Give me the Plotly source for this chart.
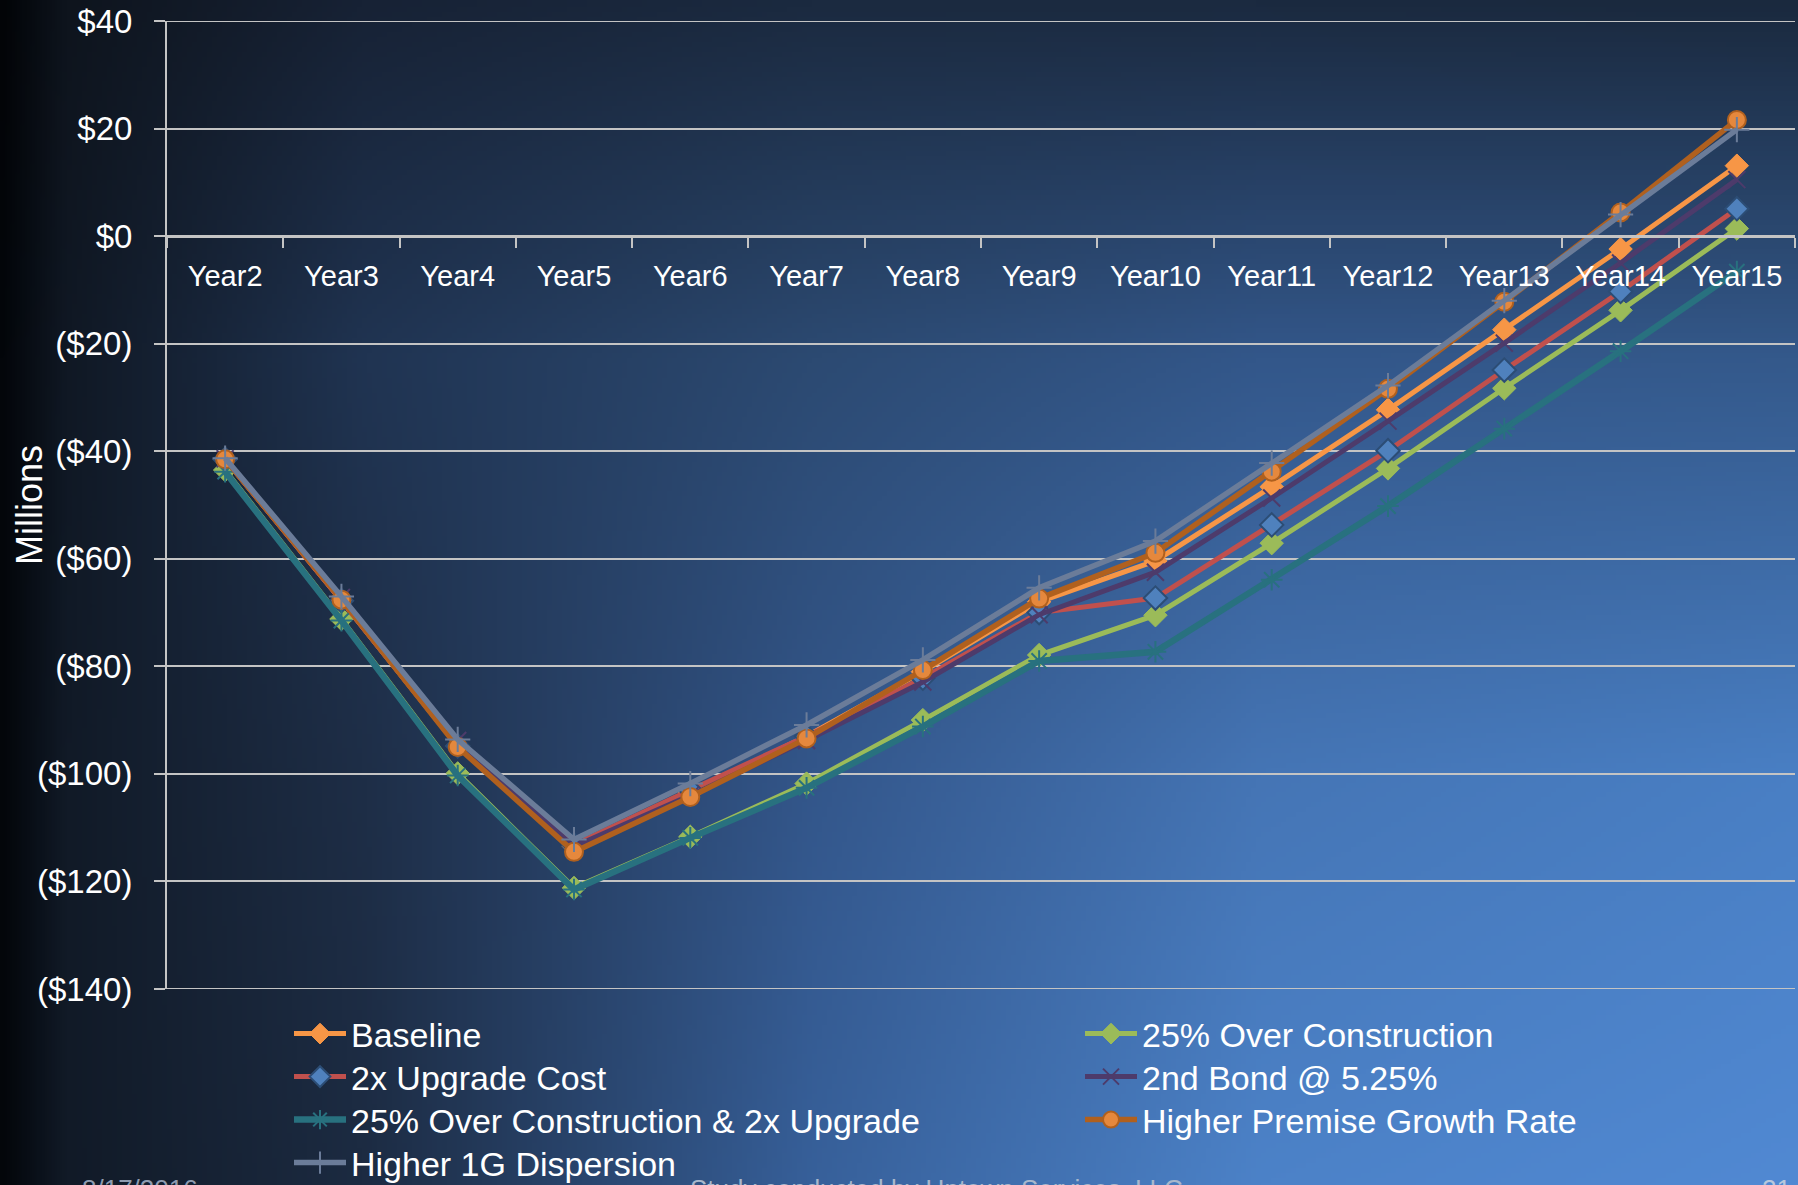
import base64, struct, zlib
import numpy as np
import plotly.graph_objects as go

# ---------------- data ----------------
years = ["Year2", "Year3", "Year4", "Year5", "Year6", "Year7", "Year8",
         "Year9", "Year10", "Year11", "Year12", "Year13", "Year14", "Year15"]

baseline = [-41.5, -67.8, -94.8, -113.5, -103.5, -93.0, -81.0, -68.0, -60.4, -46.6, -32.3, -17.4, -2.4, 13.1]
over_construction = [-43.5, -71.2, -99.9, -121.2, -111.7, -101.8, -90.0, -77.9, -70.5, -57.1, -43.2, -28.3, -13.8, 1.4]
upgrade_2x = [-41.5, -67.8, -94.8, -113.2, -103.0, -93.0, -82.2, -70.0, -67.3, -53.7, -39.9, -24.9, -10.3, 5.1]
second_bond = [-41.4, -67.2, -93.8, -113.5, -104.0, -93.8, -82.9, -70.4, -62.5, -48.7, -34.4, -19.9, -5.0, 10.5]
oc_and_2x = [-43.8, -71.5, -100.3, -121.5, -111.9, -102.6, -91.2, -79.0, -77.3, -63.9, -50.2, -35.8, -21.4, -6.6]
premise_growth = [-41.5, -67.6, -95.0, -114.5, -104.3, -93.4, -80.7, -67.4, -58.9, -43.8, -28.4, -12.2, 4.4, 21.6]
dispersion_1g = [-41.3, -67.0, -93.6, -112.2, -101.8, -90.9, -78.8, -65.4, -56.7, -42.2, -27.8, -12.0, 4.0, 19.8]

series_names = ["Baseline", "25% Over Construction", "2x Upgrade Cost", "2nd Bond @ 5.25%",
                "25% Over Construction & 2x Upgrade", "Higher Premise Growth Rate", "Higher 1G Dispersion"]

y_tick_vals = [40, 20, 0, -20, -40, -60, -80, -100, -120, -140]
y_tick_text = ["$40", "$20", "$0", "($20)", "($40)", "($60)", "($80)", "($100)", "($120)", "($140)"]

# ---------------- layout constants ----------------
W, H = 1798, 1185
ML, MR, MT, MB = 167, 3, 21, 196
PW, PH = W - ML - MR, H - MT - MB
FONT = "Liberation Sans, Arial, sans-serif"
GRID = "#c4c4c4"

# ---------------- background gradient ----------------
def hexrgb(h):
    h = h.lstrip("#")
    return [int(h[i:i + 2], 16) for i in (0, 2, 4)]

gx = [0.0, 0.035, 0.2, 0.45, 0.7, 1.0]
gy = [0.0, 0.3, 0.65, 1.0]
grid_cols = [
    ["#020407", "#0e141d", "#172235", "#1b2a40", "#1b2a40", "#1a293e"],
    ["#03060a", "#101824", "#20345250", "#2c4a72", "#33578a", "#34598b"],
    ["#03060a", "#111a27", "#1e2e47", "#33568a", "#4575b5", "#497fc4"],
    ["#03060a", "#111a27", "#1c2b42", "#37609a", "#4c82c8", "#5189d3"],
]
grid_cols[1][2] = "#203452"
gc = np.array([[hexrgb(c) for c in row] for row in grid_cols], dtype=float)
iw, ih = 360, 240
xs = np.linspace(0, 1, iw)
ys = np.linspace(0, 1, ih)
tmp = np.zeros((len(gy), iw, 3))
for r in range(len(gy)):
    for ch in range(3):
        tmp[r, :, ch] = np.interp(xs, gx, gc[r, :, ch])
img = np.zeros((ih, iw, 3))
for ch in range(3):
    for c in range(iw):
        img[:, c, ch] = np.interp(ys, gy, tmp[:, c, ch])
img = np.clip(img, 0, 255).astype(np.uint8)

def png_bytes(arr):
    h, w, _ = arr.shape
    raw = b"".join(b"\x00" + arr[y].tobytes() for y in range(h))
    def chunk(t, d):
        c = struct.pack(">I", len(d)) + t + d
        return c + struct.pack(">I", zlib.crc32(t + d) & 0xFFFFFFFF)
    return (b"\x89PNG\r\n\x1a\n" + chunk(b"IHDR", struct.pack(">IIBBBBB", w, h, 8, 2, 0, 0, 0))
            + chunk(b"IDAT", zlib.compress(raw, 9)) + chunk(b"IEND", b""))

bg_src = "data:image/png;base64," + base64.b64encode(png_bytes(img)).decode()

# ---------------- helpers ----------------
def px_to_paper_x(px):
    return (px - ML) / PW

def px_to_paper_y(py):
    return (H - MB - py) / PH

# legend slot for each series: (column x px, row top px)
col_x = [289, 1080]
row_top = [1005, 1048, 1091, 1134]
legend_slots = [(0, 0), (1, 0), (0, 1), (1, 1), (0, 2), (1, 2), (0, 3)]

# ---------------- traces ----------------
styles = [
    dict(line=dict(color="#f79646", width=5),
         marker=dict(symbol="diamond", size=18, color="#f79646", line=dict(color="#f79646", width=1))),
    dict(line=dict(color="#9bbb59", width=5),
         marker=dict(symbol="diamond", size=18, color="#9bbb59", line=dict(color="#9bbb59", width=1))),
    dict(line=dict(color="#c0504d", width=5),
         marker=dict(symbol="diamond", size=18, color="#4f81bd", line=dict(color="#2c4d75", width=2))),
    dict(line=dict(color="#4d3b6b", width=5),
         marker=dict(symbol="x-thin-open", size=17, color="#4d3b6b", line=dict(color="#4d3b6b", width=2))),
    dict(line=dict(color="#28717f", width=6.5),
         marker=dict(symbol="asterisk-open", size=18, color="#28717f", line=dict(color="#28717f", width=2))),
    dict(line=dict(color="#b0601e", width=5.5),
         marker=dict(symbol="circle", size=18, color="#e5883d", line=dict(color="#b0601e", width=2))),
    dict(line=dict(color="#6b7c99", width=5.5),
         marker=dict(symbol="cross-thin-open", size=18, color="#6b7c99", line=dict(color="#6b7c99", width=2))),
]
all_values = [baseline, over_construction, upgrade_2x, second_bond, oc_and_2x, premise_growth, dispersion_1g]

fig = go.Figure()
legend_layouts = {}
for i, (name, vals, st) in enumerate(zip(series_names, all_values, styles)):
    lname = "legend" if i == 0 else "legend%d" % (i + 1)
    fig.add_trace(go.Scatter(x=years, y=vals, name=name, mode="lines+markers",
                             line=st["line"], marker=st["marker"], legend=lname,
                             hoverinfo="skip"))
    c, r = legend_slots[i]
    legend_layouts[lname] = dict(
        x=px_to_paper_x(col_x[c]), y=px_to_paper_y(row_top[r]),
        xanchor="left", yanchor="top", orientation="v",
        bgcolor="rgba(0,0,0,0)", borderwidth=0,
        font=dict(family=FONT, size=34, color="white"),
        itemwidth=52,
    )

fig.update_layout(
    width=W, height=H,
    margin=dict(l=ML, r=MR, t=MT, b=MB, pad=0, autoexpand=False),
    paper_bgcolor="#0d1522",
    plot_bgcolor="rgba(0,0,0,0)",
    font=dict(family=FONT, color="white"),
    showlegend=True,
    xaxis=dict(
        type="category", range=[-0.5, len(years) - 0.5],
        anchor="free", position=140 / 180,
        showline=True, linecolor=GRID, linewidth=3,
        ticks="outside", tickson="boundaries", ticklen=10, tickwidth=2, tickcolor=GRID,
        showgrid=False, zeroline=False, ticklabelstandoff=13,
        tickfont=dict(family=FONT, size=29, color="white"),
        fixedrange=True,
    ),
    yaxis=dict(
        range=[-140, 40], tickmode="array", tickvals=y_tick_vals, ticktext=y_tick_text,
        showgrid=True, gridcolor=GRID, gridwidth=2,
        showline=True, linecolor=GRID, linewidth=2,
        ticks="outside", ticklen=11, tickwidth=2, tickcolor=GRID,
        zeroline=False, ticklabelstandoff=15,
        tickfont=dict(family=FONT, size=33, color="white"),
        fixedrange=True,
    ),
    shapes=[
        dict(type="line", xref="paper", yref="y", x0=0, x1=1, y0=y_tick_vals[0], y1=y_tick_vals[0],
             line=dict(color=GRID, width=2), layer="below"),
        dict(type="line", xref="paper", yref="y", x0=0, x1=1, y0=y_tick_vals[-1], y1=y_tick_vals[-1],
             line=dict(color=GRID, width=2), layer="below"),
    ],
    images=[dict(source=bg_src, xref="paper", yref="paper",
                 x=px_to_paper_x(0), y=px_to_paper_y(0),
                 sizex=W / PW, sizey=H / PH, sizing="stretch",
                 xanchor="left", yanchor="top", layer="below")],
    annotations=[
        dict(text="Millions", textangle=-90, xref="paper", yref="paper",
             x=px_to_paper_x(29), y=px_to_paper_y(505), xanchor="center", yanchor="middle",
             showarrow=False, font=dict(family=FONT, size=36, color="white")),
        dict(text="8/17/2016", xref="paper", yref="paper",
             x=px_to_paper_x(80), y=px_to_paper_y(1172), xanchor="left", yanchor="top",
             showarrow=False, font=dict(family=FONT, size=26, color="#8e9bb0")),
        dict(text="Study conducted by Uptown Services, LLC", xref="paper", yref="paper",
             x=px_to_paper_x(688), y=px_to_paper_y(1172), xanchor="left", yanchor="top",
             showarrow=False, font=dict(family=FONT, size=26, color="#a9b8cc")),
        dict(text="21", xref="paper", yref="paper",
             x=px_to_paper_x(1760), y=px_to_paper_y(1172), xanchor="left", yanchor="top",
             showarrow=False, font=dict(family=FONT, size=26, color="#b8c8dc")),
    ],
    **legend_layouts,
)

fig.write_html("out.html", config={"displayModeBar": False})
